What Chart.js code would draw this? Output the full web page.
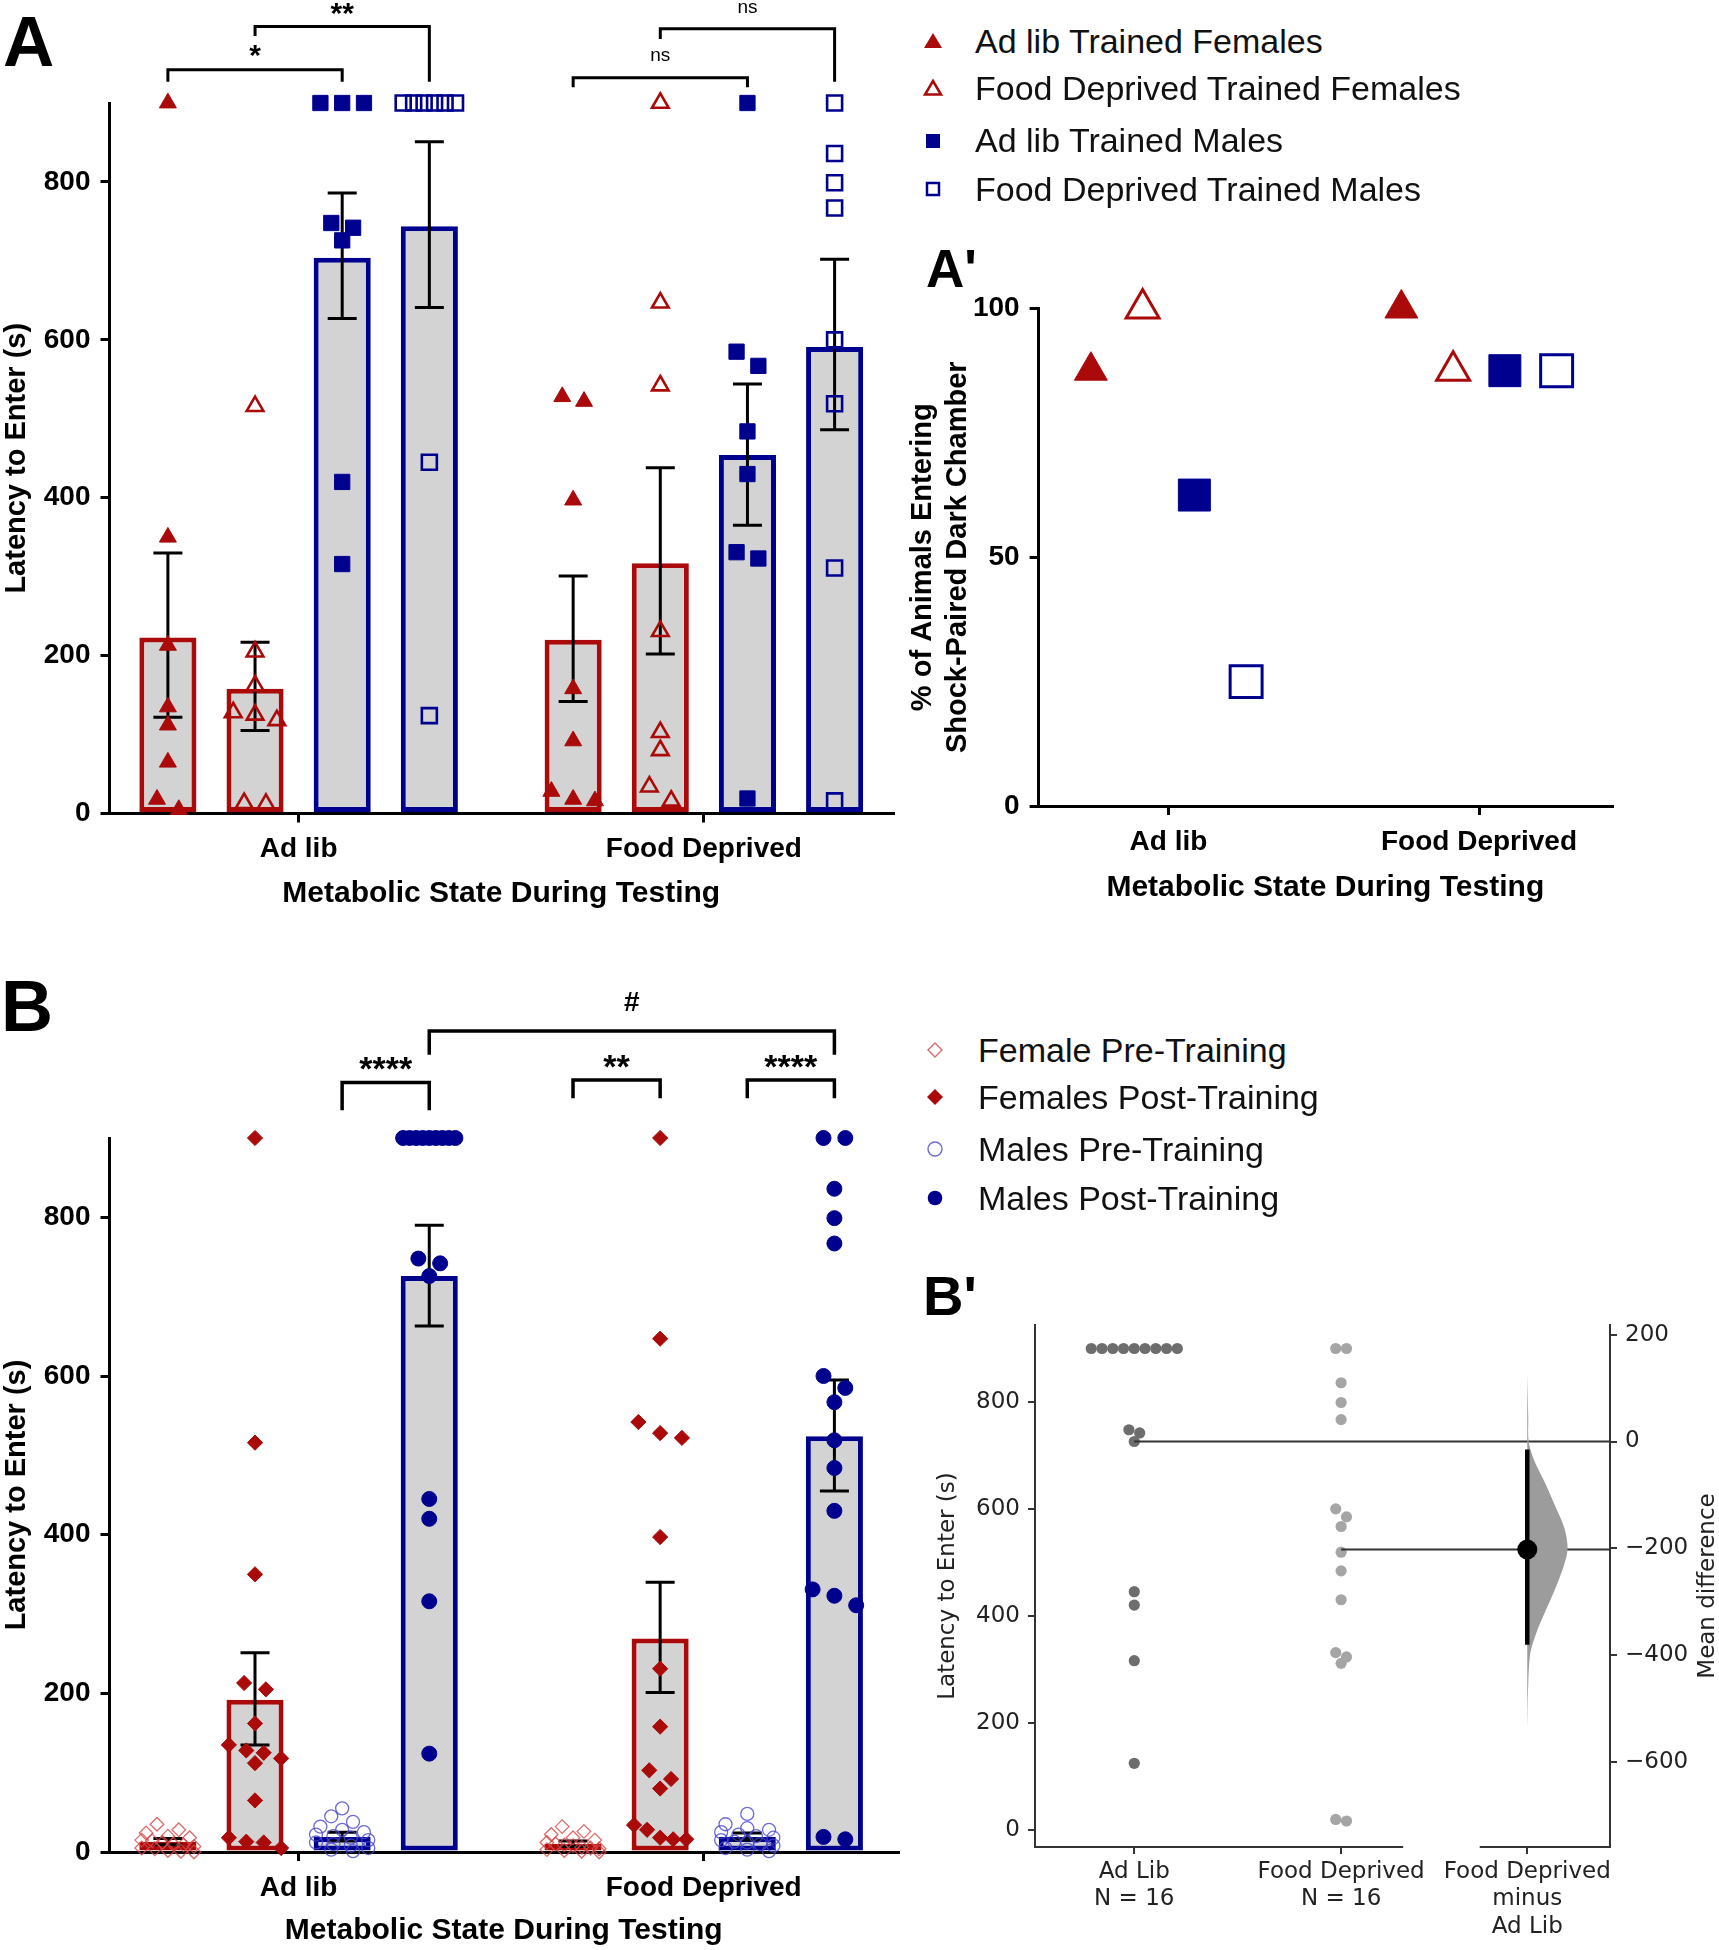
<!DOCTYPE html>
<html>
<head>
<meta charset="utf-8">
<title>Latency to enter the shock-paired chamber</title>
<script src="https://cdn.jsdelivr.net/npm/chart.js@4.4.0/dist/chart.umd.min.js"></script>
<style>
  body { margin: 0; background: #fff; }
  #fig { position: relative; width: 1719px; height: 1950px; overflow: hidden;
         font-family: "Liberation Sans", Arial, Helvetica, sans-serif; }
  canvas { position: absolute; }
  .lbl { position: absolute; font-weight: bold; line-height: 1; color: #000; }
  .leg { position: absolute; display: flex; align-items: center; height: 40px;
         font-size: 34px; color: #111; white-space: nowrap; }
</style>
</head>
<body>
<div id="fig">
  <canvas id="cA" width="920" height="912" style="left:0;top:0"></canvas>
  <canvas id="cAp" width="819" height="700" style="left:900px;top:220px"></canvas>
  <canvas id="cB" width="920" height="1010" style="left:0;top:940px"></canvas>
  <canvas id="cBp" width="819" height="700" style="left:900px;top:1250px"></canvas>

  <div class="lbl" style="left:3px;top:6px;font-size:71px">A</div>
  <div class="lbl" style="left:926px;top:242px;font-size:53px">A'</div>
  <div class="lbl" style="left:1px;top:970px;font-size:72px">B</div>
  <div class="lbl" style="left:923px;top:1268px;font-size:56px">B'</div>
  <div id="legA"></div>
  <div id="legB"></div>
</div>

<script>
// ---- data (latency in s, cut-off 900) ----
const groups = ['Ad lib', 'Food Deprived'];
const yTicks = [0, 200, 400, 600, 800];

// A: trained animals, per training condition, tested ad lib / food deprived
const aFemAdTrain_AdTest = [900, 350, 213, 135, 112, 65, 18, 5];
const aFemFdTrain_AdTest = [516, 205, 162, 128, 125, 118, 13, 12];
const aMalAdTrain_AdTest = [900, 900, 900, 748, 742, 726, 420, 316];
const aMalFdTrain_AdTest = [900, 900, 900, 900, 900, 900, 445, 124];
const aFemAdTrain_FdTest = [528, 522, 397, 158, 92, 28, 18, 16];
const aFemFdTrain_FdTest = [900, 647, 542, 231, 103, 80, 34, 16];
const aMalAdTrain_FdTest = [900, 585, 567, 484, 430, 331, 323, 19];
const aMalFdTrain_FdTest = [900, 836, 799, 767, 600, 519, 311, 16];
const aMeans = [223, 158, 704, 744, 220, 317, 454, 591];
const aErrLo = [122, 105, 627, 641, 142, 202, 365, 486];
const aErrHi = [330, 217, 786, 851, 301, 438, 544, 702];
const aSig = ['*', '**', 'ns', 'ns'];

// A': % of animals entering
const apAdlib = [87.5, 100, 62.5, 25];
const apFd = [100, 87.5, 87.5, 87.5];
const apTicks = [0, 50, 100];

// B: pre / post training
const bFemPre_Ad = [35, 28, 24, 20, 18, 15, 14, 12, 10, 9, 7, 5, 4, 2, 1, 0];
const bFemPost_Ad = aFemAdTrain_AdTest.concat(aFemFdTrain_AdTest);
const bMalPre_Ad = [55, 45, 38, 32, 28, 25, 22, 20, 18, 15, 12, 10, 8, 5, 3, 1];
const bMalPost_Ad = aMalAdTrain_AdTest.concat(aMalFdTrain_AdTest);
const bFemPre_Fd = [32, 26, 22, 18, 15, 12, 10, 9, 8, 6, 5, 4, 3, 2, 1, 0];
const bFemPost_Fd = aFemAdTrain_FdTest.concat(aFemFdTrain_FdTest);
const bMalPre_Fd = [48, 35, 30, 28, 25, 22, 20, 18, 15, 13, 12, 10, 8, 5, 3, 1];
const bMalPost_Fd = aMalAdTrain_FdTest.concat(aMalFdTrain_FdTest);
const bMeans = [13, 192, 19, 726, 10, 269, 19, 524];
const bErrLo = [9, 135, 14, 663, 7, 201, 15, 455];
const bErrHi = [17, 251, 25, 790, 14, 340, 24, 595];
const bSig = ['****', '#', '**', '****'];

// B': estimation plot, males post-training
const bpLabels = [['Ad Lib', 'N = 16'], ['Food Deprived', 'N = 16'], ['Food Deprived', 'minus', 'Ad Lib']];
const bpTicks = [0, 200, 400, 600, 800];
const bpDiffTicks = [-600, -400, -200, 0, 200];
const bpMeanDiff = -202;
const bpCi = [-380, -15];
const bpViolinY = [126, 44, 0, -35, -79, -122, -162, -200, -234, -278, -321, -359, -396, -452, -544];
const bpViolinDensity = [0, 0.025, 0.033, 0.17, 0.45, 0.7, 0.92, 1, 0.9, 0.68, 0.43, 0.22, 0.075, 0.025, 0];

const legendA = ['Ad lib Trained Females', 'Food Deprived Trained Females', 'Ad lib Trained Males', 'Food Deprived Trained Males'];
const legendB = ['Female Pre-Training', 'Females Post-Training', 'Males Pre-Training', 'Males Post-Training'];

// ---- styles / layout ----
const RED = '#aa0a0a', BLUE = '#00008f', GRAY = '#d3d3d3';
const LRED = 'rgba(212,70,70,0.8)', LBLUE = 'rgba(70,70,205,0.8)';
const FONT = '"Liberation Sans", Arial, Helvetica, sans-serif';
const MPL = '"DejaVu Sans", sans-serif';
Chart.defaults.font.family = FONT;
Chart.defaults.color = '#000';

const groupX = [1.5, 6.15];
const slot = [-1.5, -0.5, 0.5, 1.5];
const barX = groupX.flatMap(g => slot.map(s => g + s));

// rows of near-equal values get spread side by side
function swarm(values, tol, step, maxSpan) {
  const order = values.map((v, i) => i).sort((a, b) => values[b] - values[a]);
  const off = values.map(() => 0);
  let row = [];
  const flush = () => {
    const n = row.length;
    const s = n > 1 ? Math.min(step, maxSpan / (n - 1)) : 0;
    row.forEach((j, k) => { off[j] = (k - (n - 1) / 2) * s; });
    row = [];
  };
  order.forEach(i => {
    if (row.length && values[row[0]] - values[i] > tol) flush();
    row.push(i);
  });
  flush();
  return off;
}

const errorBars = {
  id: 'errorBars',
  afterDatasetDraw(chart, args, opts) {
    if (args.meta.type !== 'bar') return;
    const {ctx, scales: {x, y}} = chart;
    ctx.save();
    ctx.strokeStyle = '#000';
    ctx.lineWidth = opts.width;
    opts.lo.forEach((lo, i) => {
      const px = x.getPixelForValue(opts.pos[i]);
      const p1 = y.getPixelForValue(lo), p2 = y.getPixelForValue(opts.hi[i]);
      ctx.beginPath();
      ctx.moveTo(px, p1); ctx.lineTo(px, p2);
      ctx.moveTo(px - opts.cap, p1); ctx.lineTo(px + opts.cap, p1);
      ctx.moveTo(px - opts.cap, p2); ctx.lineTo(px + opts.cap, p2);
      ctx.stroke();
    });
    ctx.restore();
  }
};

const brackets = {
  id: 'brackets',
  afterDraw(chart, args, opts) {
    const {ctx, scales: {x, y}} = chart;
    ctx.save();
    ctx.strokeStyle = '#000';
    ctx.fillStyle = '#000';
    ctx.lineWidth = opts.width;
    ctx.textAlign = 'center';
    ctx.textBaseline = 'middle';
    opts.items.forEach(b => {
      const xa = x.getPixelForValue(opts.pos[b.from]), xb = x.getPixelForValue(opts.pos[b.to]);
      const yt = y.getPixelForValue(b.y);
      ctx.beginPath();
      ctx.moveTo(xa, y.getPixelForValue(b.legA));
      ctx.lineTo(xa, yt);
      ctx.lineTo(xb, yt);
      ctx.lineTo(xb, y.getPixelForValue(b.legB));
      ctx.stroke();
      ctx.font = b.font;
      ctx.fillText(b.text, (xa + xb) / 2, y.getPixelForValue(b.ty));
    });
    ctx.restore();
  }
};

function axisStyle(size) {
  return {
    grid: {offset: false, drawOnChartArea: false, drawTicks: true, tickLength: 9, color: '#000', lineWidth: 3},
    border: {color: '#000', width: 3},
    ticks: {color: '#000', font: {size: size, weight: 'bold'}, autoSkip: false, maxRotation: 0}
  };
}

function barPanel(id, cfg) {
  const ds = [{
    type: 'bar', order: 10,
    data: cfg.means.map((m, i) => ({x: barX[i], y: m})),
    backgroundColor: GRAY,
    borderColor: [RED, RED, BLUE, BLUE, RED, RED, BLUE, BLUE],
    borderWidth: 5, borderSkipped: false,
    barPercentage: 0.655, categoryPercentage: 1
  }];
  cfg.series.forEach((vals, i) => {
    const m = cfg.marks[i % 4];
    const off = swarm(vals, m.tol, 0.25, 0.6);
    ds.push({
      type: 'scatter', order: 0, clip: false,
      data: vals.map((v, k) => ({x: barX[i] + off[k], y: v})),
      pointStyle: m.style, pointRadius: m.r,
      pointBackgroundColor: m.fill, pointBorderColor: m.line, pointBorderWidth: m.w
    });
  });
  const ax = axisStyle(28);
  return new Chart(document.getElementById(id), {
    type: 'bar',
    data: {datasets: ds},
    options: {
      responsive: false, animation: false, devicePixelRatio: 1, events: [],
      layout: {padding: cfg.pad},
      plugins: {
        legend: {display: false}, tooltip: {enabled: false},
        errorBars: {pos: barX, lo: cfg.lo, hi: cfg.hi, cap: 14.5, width: 3},
        brackets: {pos: barX, items: cfg.brackets, width: cfg.bw}
      },
      scales: {
        x: {
          type: 'linear', min: -0.67, max: cfg.xMax, offset: false,
          afterBuildTicks: s => { s.ticks = groupX.map(v => ({value: v})); },
          afterFit: s => { s.height = cfg.xH; },
          grid: ax.grid, border: ax.border,
          ticks: Object.assign({}, ax.ticks, {padding: 10, callback: (v, i) => groups[i]}),
          title: {display: true, text: 'Metabolic State During Testing', color: '#000',
                  font: {size: 30, weight: 'bold'}, padding: 0}
        },
        y: {
          min: 0, max: 900,
          afterBuildTicks: s => { s.ticks = yTicks.map(v => ({value: v})); },
          afterFit: s => { s.width = 109.5; },
          grid: ax.grid, border: ax.border,
          ticks: Object.assign({}, ax.ticks, {padding: 10}),
          title: {display: true, text: 'Latency to Enter (s)', color: '#000',
                  font: {size: 29, weight: 'bold'}, padding: 0}
        }
      }
    },
    plugins: [errorBars, brackets]
  });
}

const open = 'rgba(0,0,0,0)';
const triF = {style: 'triangle', r: 9.8, fill: RED, line: RED, w: 1, tol: 20};
const triO = {style: 'triangle', r: 9.6, fill: open, line: RED, w: 2.6, tol: 20};
const sqF = {style: 'rect', r: 10.8, fill: BLUE, line: BLUE, w: 1, tol: 20};
const sqO = {style: 'rect', r: 10.6, fill: open, line: BLUE, w: 2.6, tol: 20};

barPanel('cA', {
  series: [aFemAdTrain_AdTest, aFemFdTrain_AdTest, aMalAdTrain_AdTest, aMalFdTrain_AdTest,
           aFemAdTrain_FdTest, aFemFdTrain_FdTest, aMalAdTrain_FdTest, aMalFdTrain_FdTest],
  means: aMeans, lo: aErrLo, hi: aErrHi,
  marks: [triF, triO, sqF, sqO],
  pad: {top: 103, right: 27, bottom: 0, left: 0}, xH: 98.5, xMax: 8.32, bw: 3,
  brackets: [
    {from: 0, to: 2, y: 942, legA: 927, legB: 927, ty: 958, text: aSig[0], font: 'bold 30px ' + FONT},
    {from: 1, to: 3, y: 997, legA: 985, legB: 927, ty: 1012, text: aSig[1], font: 'bold 30px ' + FONT},
    {from: 4, to: 6, y: 932, legA: 920, legB: 920, ty: 960, text: aSig[2], font: '19px ' + FONT},
    {from: 5, to: 7, y: 994, legA: 981, legB: 927, ty: 1021, text: aSig[3], font: '19px ' + FONT}
  ]
});

const diaO = {style: 'rectRot', r: 6.8, fill: open, line: LRED, w: 1.3, tol: 8};
const diaF = {style: 'rectRot', r: 7.6, fill: RED, line: RED, w: 1, tol: 20};
const cirO = {style: 'circle', r: 6.5, fill: open, line: LBLUE, w: 1.3, tol: 8};
const cirF = {style: 'circle', r: 7.5, fill: BLUE, line: BLUE, w: 1, tol: 20};

barPanel('cB', {
  series: [bFemPre_Ad, bFemPost_Ad, bMalPre_Ad, bMalPost_Ad,
           bFemPre_Fd, bFemPost_Fd, bMalPre_Fd, bMalPost_Fd],
  means: bMeans, lo: bErrLo, hi: bErrHi,
  marks: [diaO, diaF, cirO, cirF],
  pad: {top: 198, right: 22, bottom: 1.5, left: 0}, xH: 96.5, xMax: 8.38, bw: 3.5,
  brackets: [
    {from: 2, to: 3, y: 970, legA: 935, legB: 935, ty: 985, text: bSig[0], font: 'bold 34px ' + FONT},
    {from: 3, to: 7, y: 1035, legA: 1005, legB: 1005, ty: 1070, text: bSig[1], font: 'bold 28px ' + FONT},
    {from: 4, to: 5, y: 973, legA: 950, legB: 950, ty: 988, text: bSig[2], font: 'bold 34px ' + FONT},
    {from: 6, to: 7, y: 973, legA: 950, legB: 950, ty: 988, text: bSig[3], font: 'bold 34px ' + FONT}
  ]
});

// ---- A' ----
const apGroupX = [0, 6];
const apMarks = [
  {style: 'triangle', r: 19, fill: RED, line: RED, w: 1},
  {style: 'triangle', r: 19, fill: open, line: RED, w: 3},
  {style: 'rect', r: 22.6, fill: BLUE, line: BLUE, w: 1},
  {style: 'rect', r: 22.6, fill: open, line: BLUE, w: 3}
];
const axp = axisStyle(28);
new Chart(document.getElementById('cAp'), {
  type: 'scatter',
  data: {
    datasets: apMarks.map((m, k) => ({
      clip: false,
      data: [{x: apGroupX[0] + slot[k], y: apAdlib[k]}, {x: apGroupX[1] + slot[k], y: apFd[k]}],
      pointStyle: m.style, pointRadius: m.r,
      pointBackgroundColor: m.fill, pointBorderColor: m.line, pointBorderWidth: m.w
    }))
  },
  options: {
    responsive: false, animation: false, devicePixelRatio: 1, events: [],
    layout: {padding: {top: 88.5, right: 107, bottom: 14, left: 0}},
    plugins: {legend: {display: false}, tooltip: {enabled: false}},
    scales: {
      x: {
        type: 'linear', min: -2.51, max: 8.57,
        afterBuildTicks: s => { s.ticks = apGroupX.map(v => ({value: v})); },
        afterFit: s => { s.height = 100; },
        grid: axp.grid, border: axp.border,
        ticks: Object.assign({}, axp.ticks, {padding: 10, callback: (v, i) => groups[i]}),
        title: {display: true, text: 'Metabolic State During Testing', color: '#000',
                font: {size: 30, weight: 'bold'}, padding: 0}
      },
      y: {
        min: 0, max: 100,
        afterBuildTicks: s => { s.ticks = apTicks.map(v => ({value: v})); },
        afterFit: s => { s.width = 138.6; },
        grid: axp.grid, border: axp.border,
        ticks: Object.assign({}, axp.ticks, {padding: 10}),
        title: {display: true, text: ['% of Animals Entering', 'Shock-Paired Dark Chamber'], color: '#000',
                font: {size: 29, weight: 'bold', lineHeight: 1.2}, padding: {top: 5.5, bottom: 0}}
      }
    }
  }
});

// ---- B' ----
const bpX = [0, 1, 1.9];
const bpMin = -32.6, bpMax = 944, bpXMax = 2.3;
const offAd = swarm(bMalPost_Ad, 19, 0.052, 1);
const offFd = swarm(bMalPost_Fd, 19, 0.052, 1);
const bpExtras = {
  id: 'bpExtras',
  afterDraw(chart) {
    const {ctx, chartArea, scales: {x, y2}} = chart;
    ctx.save();
    ctx.strokeStyle = '#333';
    ctx.lineWidth = 2;
    ctx.beginPath();
    ctx.moveTo(x.getPixelForValue(x.min), chartArea.bottom);
    ctx.lineTo(x.getPixelForValue(1.3), chartArea.bottom);
    ctx.moveTo(x.getPixelForValue(1.67), chartArea.bottom);
    ctx.lineTo(x.getPixelForValue(x.max), chartArea.bottom);
    ctx.stroke();
    ctx.translate(y2.right - 11, (chartArea.top + chartArea.bottom) / 2);
    ctx.rotate(-Math.PI / 2);
    ctx.fillStyle = '#222';
    ctx.font = '23px ' + MPL;
    ctx.textAlign = 'center';
    ctx.textBaseline = 'middle';
    ctx.fillText('Mean difference', 0, 0);
    ctx.restore();
  }
};
const mplAxis = {
  grid: {drawOnChartArea: false, drawTicks: true, tickLength: 7, color: '#333', lineWidth: 2},
  border: {color: '#333', width: 2},
  ticks: {color: '#222', font: {family: MPL, size: 23, lineHeight: 1.2}, autoSkip: false, maxRotation: 0}
};
const minus = v => (v < 0 ? '\u2212' + Math.abs(v) : String(v));
new Chart(document.getElementById('cBp'), {
  type: 'scatter',
  data: {
    datasets: [
      {order: 4, clip: false, pointRadius: 5.6, pointBackgroundColor: '#6d6d6d', pointBorderWidth: 0,
       data: bMalPost_Ad.map((v, k) => ({x: bpX[0] + offAd[k], y: v}))},
      {order: 4, clip: false, pointRadius: 5.6, pointBackgroundColor: '#a5a5a5', pointBorderWidth: 0,
       data: bMalPost_Fd.map((v, k) => ({x: bpX[1] + offFd[k], y: v}))},
      {order: 3, showLine: true, borderColor: '#333', borderWidth: 2, pointRadius: 0,
       data: [{x: bpX[0], y: bMeans[3]}, {x: bpXMax, y: bMeans[3]}]},
      {order: 3, showLine: true, borderColor: '#333', borderWidth: 2, pointRadius: 0,
       data: [{x: bpX[1], y: bMeans[7]}, {x: bpXMax, y: bMeans[7]}]},
      {order: 2, yAxisID: 'y2', showLine: true, fill: 'shape', tension: 0.3,
       backgroundColor: '#9c9c9c', borderColor: 'rgba(0,0,0,0)', borderWidth: 0, pointRadius: 0,
       data: bpViolinY.map((v, k) => ({x: bpX[2] + bpViolinDensity[k] * 0.195, y: v}))},
      {order: 1, yAxisID: 'y2', showLine: true, borderColor: '#000', borderWidth: 4.5, pointRadius: 0,
       data: bpCi.map(v => ({x: bpX[2], y: v}))},
      {order: 0, yAxisID: 'y2', clip: false, pointRadius: 10, pointBackgroundColor: '#000', pointBorderWidth: 0,
       data: [{x: bpX[2], y: bpMeanDiff}]}
    ]
  },
  options: {
    responsive: false, animation: false, devicePixelRatio: 1, events: [],
    layout: {padding: {top: 75, right: 0, bottom: 0, left: 0}},
    plugins: {legend: {display: false}, tooltip: {enabled: false}},
    scales: {
      x: {
        type: 'linear', min: -0.48, max: bpXMax,
        afterBuildTicks: s => { s.ticks = bpX.map(v => ({value: v})); },
        afterFit: s => { s.height = 103; },
        grid: mplAxis.grid, border: {display: false},
        ticks: Object.assign({}, mplAxis.ticks, {padding: 4, callback: (v, i) => bpLabels[i]})
      },
      y: {
        min: bpMin, max: bpMax,
        afterBuildTicks: s => { s.ticks = bpTicks.map(v => ({value: v})); },
        afterFit: s => { s.width = 135; },
        grid: mplAxis.grid, border: mplAxis.border,
        ticks: Object.assign({}, mplAxis.ticks, {padding: 8}),
        title: {display: true, text: 'Latency to Enter (s)', color: '#222',
                font: {family: MPL, size: 23}, padding: {top: 34, bottom: 0}}
      },
      y2: {
        position: 'right', min: bpMin - bMeans[3], max: bpMax - bMeans[3],
        afterBuildTicks: s => { s.ticks = bpDiffTicks.map(v => ({value: v})); },
        afterFit: s => { s.width = 109; },
        grid: mplAxis.grid, border: mplAxis.border,
        ticks: Object.assign({}, mplAxis.ticks, {padding: 8, callback: v => minus(v)})
      }
    }
  },
  plugins: [bpExtras]
});

// ---- legends ----
function marker(kind) {
  const s = {
    triF: `<polygon points="12,4 21,19 3,19" fill="${RED}"/>`,
    triO: `<polygon points="12,5 20,18.5 4,18.5" fill="none" stroke="${RED}" stroke-width="2.5"/>`,
    sqF: `<rect x="5" y="5" width="14" height="14" fill="${BLUE}"/>`,
    sqO: `<rect x="6" y="6" width="12" height="12" fill="none" stroke="${BLUE}" stroke-width="2.5"/>`,
    diaO: `<polygon points="12,5 19,12 12,19 5,12" fill="none" stroke="${LRED}" stroke-width="1.4"/>`,
    diaF: `<polygon points="12,4 20,12 12,20 4,12" fill="${RED}"/>`,
    cirO: `<circle cx="12" cy="12" r="7" fill="none" stroke="${LBLUE}" stroke-width="1.4"/>`,
    cirF: `<circle cx="12" cy="12" r="7.3" fill="${BLUE}"/>`
  }[kind];
  return `<svg width="24" height="24" viewBox="0 0 24 24">${s}</svg>`;
}
function legend(el, labels, kinds, mx, tx, rows) {
  el.innerHTML = labels.map((t, i) =>
    `<div class="leg" style="left:${mx - 12}px;top:${rows[i] - 20}px">${marker(kinds[i])}` +
    `<span style="margin-left:${tx - mx - 12}px">${t}</span></div>`).join('');
}
legend(document.getElementById('legA'), legendA, ['triF', 'triO', 'sqF', 'sqO'], 933, 975, [41, 88, 140.5, 189]);
legend(document.getElementById('legB'), legendB, ['diaO', 'diaF', 'cirO', 'cirF'], 935, 978, [1050, 1097, 1149, 1198]);
</script>
</body>
</html>
